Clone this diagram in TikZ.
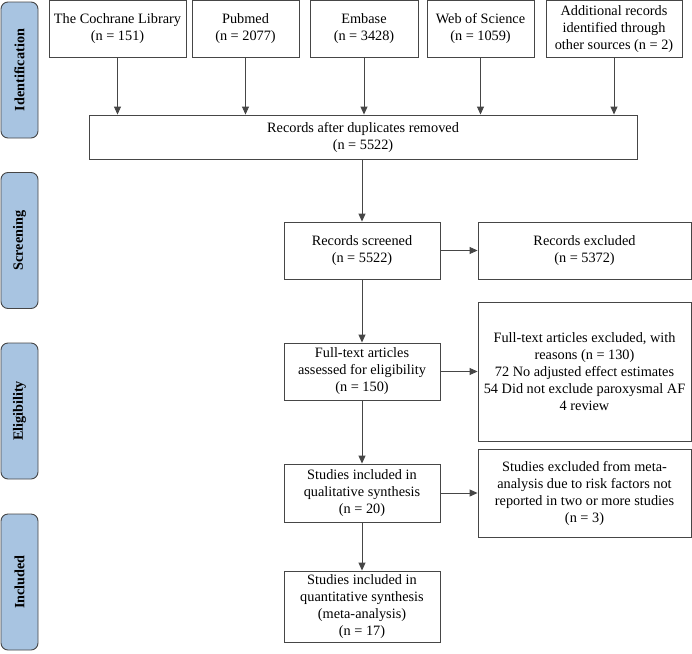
\documentclass[tikz,border=0pt]{standalone}
\usepackage{fontspec}
\setmainfont{Liberation Serif}
\usetikzlibrary{positioning,calc,arrows.meta}
\definecolor{phaseblue}{RGB}{168,196,225}
\definecolor{linegray}{RGB}{70,70,70}
\begin{document}
\begin{tikzpicture}[x=1pt,y=-1pt,>={Triangle[length=8pt,width=7pt]},
  box/.style={draw=linegray,line width=0.9pt,rectangle,align=center,inner sep=0pt,font=\fontsize{14.3}{17}\selectfont},
  phase/.style={draw=linegray,fill=phaseblue,line width=0.9pt,rounded corners=7pt,rotate=90,inner sep=0pt,minimum width=136pt,minimum height=37pt,font=\fontsize{14.2}{17}\selectfont\bfseries}]

\useasboundingbox (0,0) rectangle (692,653);

% phases
\node[phase](ident) at (19.5,70) {Identification};
\node[phase](screen) at (19.5,240.5) {Screening};
\node[phase](elig) at (19.5,411) {Eligibility};
\node[phase](incl) at (19.5,582) {Included};

% databases
\node[box,minimum width=137pt,minimum height=56.5pt](cochrane) at (117.5,28.75) {The Cochrane Library\\(n = 151)};
\node[box,minimum width=107pt,minimum height=56.5pt](pubmed) at (245.5,28.75) {Pubmed\\(n = 2077)};
\node[box,minimum width=108pt,minimum height=56.5pt](embase) at (364,28.75) {Embase\\(n = 3428)};
\node[box,minimum width=107pt,minimum height=56.5pt](wos) at (480.5,28.75) {Web of Science\\(n = 1059)};
\node[box,minimum width=136pt,minimum height=56.5pt](other) at (614,28.75) {Additional records\\identified through\\other sources (n = 2)};

\node[box,minimum width=548pt,minimum height=44pt](dedup) at (363,137) {Records after duplicates removed\\(n = 5522)};

% main column
\node[box,minimum width=156pt,minimum height=57pt](screened) at (362,250.5) {Records screened\\(n = 5522)};
\node[box,minimum width=156pt,minimum height=57pt](fulltext) at (362,371.5) {Full-text articles\\assessed for eligibility\\(n = 150)};
\node[box,minimum width=156pt,minimum height=58pt](quali) at (362,493) {Studies included in\\qualitative synthesis\\(n = 20)};
\node[box,minimum width=156pt,minimum height=71pt](quanti) at (362,606.5) {Studies included in\\quantitative synthesis\\(meta-analysis)\\(n = 17)};

% exclusions
\node[box,minimum width=213pt,minimum height=57pt](excl1) at (584.5,250.5) {Records excluded\\(n = 5372)};
\node[box,minimum width=213pt,minimum height=139pt](excl2) at (584.5,371.5) {Full-text articles excluded, with\\reasons (n = 130)\\72 No adjusted effect estimates\\54 Did not exclude paroxysmal AF\\4 review};
\node[box,minimum width=213pt,minimum height=88pt](excl3) at (584.5,493) {Studies excluded from meta-\\analysis due to risk factors not\\reported in two or more studies\\(n = 3)};

\foreach \x in {cochrane,pubmed,embase,wos,other}{
	\draw[->,line width=0.9pt,color=linegray](\x)to(\x|-dedup.north);
}
\draw[->,line width=0.9pt,color=linegray](dedup.south-|screened)to(screened);
\foreach \x/\y in {screened/fulltext,fulltext/quali,quali/quanti}{
	\draw[->,line width=0.9pt,color=linegray](\x)to(\y);
}
\foreach \x/\y in {screened/excl1,fulltext/excl2,quali/excl3}{
	\draw[->,line width=0.9pt,color=linegray](\x)to(\y);
}
\end{tikzpicture}
\end{document}
